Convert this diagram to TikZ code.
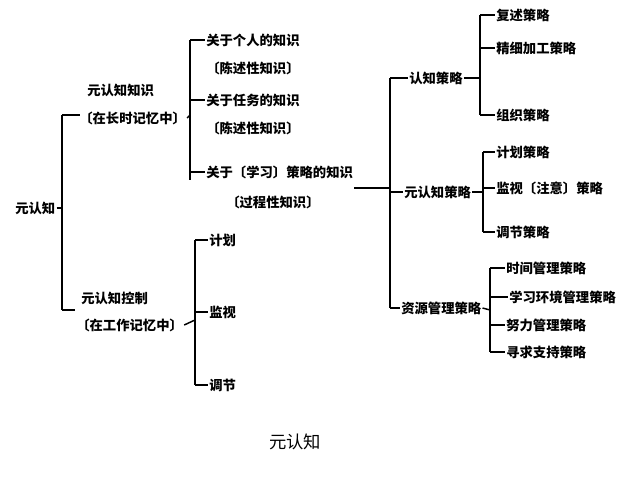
\documentclass[tikz,border=0pt]{standalone}
\usepackage{fontspec}
\newfontfamily\cjk{Noto Sans CJK SC}
\usetikzlibrary{positioning}
\tikzset{
  lbl/.style={anchor=west,inner sep=0.75pt,font=\cjk\bfseries\fontsize{10}{12}\selectfont},
  sub/.style={anchor=west,inner sep=0.75pt,font=\cjk\bfseries\fontsize{10}{12}\selectfont},
  br/.style={line width=1.1pt,black}
}
\begin{document}
\begin{tikzpicture}[x=0.75pt,y=-0.75pt]
\useasboundingbox (0,0) rectangle (640,480);
% root
\node[lbl] (root) at (14,208) {元认知};
\node[lbl] (know) at (86,90) {元认知知识};
\node[sub] (knowm) at (78,118) {〔在长时记忆中〕};
\node[lbl] (ctrl) at (80,298) {元认知控制};
\node[sub] (ctrlm) at (75,325) {〔在工作记忆中〕};
\coordinate (b0) at (62,208);
\draw[br] (root.east) -- (b0);
\draw[br] (62,115) -- (62,310);
\draw[br] (62,115) -- (80,115);
\draw[br] (62,310) -- (75,310);
% knowledge
\node[lbl] (k1) at (205,40) {关于个人的知识};
\node[sub] (k1m) at (205,68) {〔陈述性知识〕};
\node[lbl] (k2) at (205,100) {关于任务的知识};
\node[sub] (k2m) at (205,128) {〔陈述性知识〕};
\node[lbl] (k3) at (205,172) {关于〔学习〕策略的知识};
\node[sub] (k3m) at (225,202) {〔过程性知识〕};
\draw[br] (knowm.east) -- (190,115);
\draw[br] (190,40) -- (190,180);
\foreach \n in {k1,k2,k3} \draw[br] (190,0 |- \n.west) -- (\n.west);
% control
\node[lbl] (c1) at (208,240) {计划};
\node[lbl] (c2) at (208,312) {监视};
\node[lbl] (c3) at (208,385) {调节};
\draw[br] (ctrlm.east) -- (195,320);
\draw[br] (195,240) -- (195,385);
\foreach \n in {c1,c2,c3} \draw[br] (195,0 |- \n.west) -- (\n.west);
% strategies
\node[lbl] (s1) at (408,78) {认知策略};
\node[lbl] (s2) at (403,192) {元认知策略};
\node[lbl] (s3) at (400,308) {资源管理策略};
\coordinate (j) at (390,188);
\draw[br] (k3.east |- j) -- (j);
\draw[br] (390,78) -- (390,308);
\foreach \n in {s1,s2,s3} \draw[br] (390,0 |- \n.west) -- (\n.west);
% cognitive
\node[lbl] (r1) at (495,15) {复述策略};
\node[lbl] (r2) at (495,48) {精细加工策略};
\node[lbl] (r3) at (495,115) {组织策略};
\draw[br] (s1.east) -- (480,78);
\draw[br] (480,15) -- (480,115);
\foreach \n in {r1,r2,r3} \draw[br] (480,0 |- \n.west) -- (\n.west);
% metacognitive
\node[lbl] (m1) at (495,152) {计划策略};
\node[lbl] (m2) at (495,188) {监视〔注意〕策略};
\node[lbl] (m3) at (495,232) {调节策略};
\draw[br] (s2.east) -- (483,192);
\draw[br] (483,152) -- (483,232);
\foreach \n in {m1,m2,m3} \draw[br] (483,0 |- \n.west) -- (\n.west);
% resource
\node[lbl] (q1) at (505,268) {时间管理策略};
\node[lbl] (q2) at (508,297) {学习环境管理策略};
\node[lbl] (q3) at (505,325) {努力管理策略};
\node[lbl] (q4) at (505,352) {寻求支持策略};
\draw[br] (s3.east) -- (490,310);
\draw[br] (490,268) -- (490,352);
\foreach \n in {q1,q2,q3,q4} \draw[br] (490,0 |- \n.west) -- (\n.west);
% caption
\node[font=\cjk\fontsize{13}{15}\selectfont] (cap) at (295,442) {元认知};
\end{tikzpicture}
\end{document}
